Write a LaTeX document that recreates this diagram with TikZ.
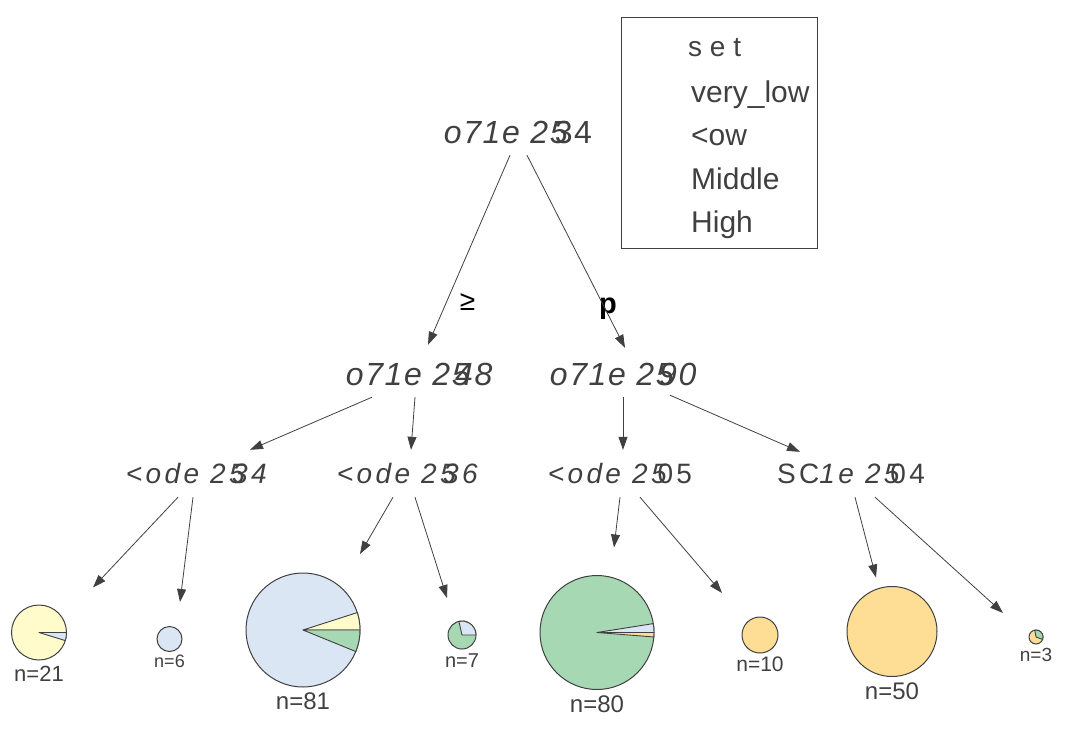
\documentclass[tikz,border=0pt]{standalone}
\usepackage{fontspec}
\setmainfont{Liberation Sans}
\usetikzlibrary{arrows.meta}
\definecolor{txt}{HTML}{404040}
\definecolor{cvl}{HTML}{FFFBCB}
\definecolor{clow}{HTML}{DAE6F3}
\definecolor{cmid}{HTML}{A6D8B4}
\definecolor{chigh}{HTML}{FEDE94}
\newcommand\myslice[4]{\filldraw[fill=#4, draw=txt, line width=0.9pt, line join=round] (0,0) -- (#1:#3) arc[start angle=#1, end angle=#2, radius=#3] -- cycle;}
\begin{document}
\begin{tikzpicture}[x=1pt,y=-1pt,
  every node/.style={text=txt},
  labA/.style={font=\fontsize{32}{32}\selectfont\addfontfeature{LetterSpace=5}, inner sep=2pt, text height=23pt, text depth=0pt},
  labB/.style={font=\fontsize{28}{28}\selectfont\addfontfeature{LetterSpace=12}, inner sep=2pt, text height=20pt, text depth=0pt},
  edge/.style={draw=txt, line width=0.8pt, -{Triangle[length=13pt,width=9pt]}},
  pie/.style={circle, draw=txt, line width=1pt, inner sep=0pt, minimum size=#1},
  nlab/.style={font=\fontsize{#1}{#1}\selectfont, inner sep=0pt, text height=0.72*#1 pt, text depth=0pt},
  legtxt/.style={font=\fontsize{30}{30}\selectfont, inner sep=0pt, anchor=base west}]
\useasboundingbox (0,0) rectangle (1084,744);

% legend
\node[draw=txt, line width=0.8pt, minimum width=196pt, minimum height=231pt, inner sep=0pt] (legend) at (719,132.5) {};
\node[legtxt, font=\fontsize{28}{28}\selectfont] (legtitle) at (688,56) {s e t};
\node[legtxt] (lg1) at (691,102) {very\_low};
\node[legtxt] (lg2) at (691,145) {<ow};
\node[legtxt] (lg3) at (691,189) {Middle};
\node[legtxt] (lg4) at (691,232) {High};

% inner nodes
\node[labA] (n1) at (518,132) {\textit{o71e 25}\kern-0.45em 34};
\node[labA] (n2) at (420,374) {\textit{o71e 25\kern-0.45em 48}};
\node[labA] (n3) at (624,374) {\textit{o71e 25\kern-0.45em 90}};
\node[labB] (n4) at (198,473) {\textit{<ode 25\kern-0.45em 34}};
\node[labB] (n5) at (409,473) {\textit{<ode 25\kern-0.45em 36}};
\node[labB] (n6) at (620,473) {\textit{<ode 25}\kern-0.45em 05};
\node[labB] (n7) at (851,473) {SC\textit{1e 25}\kern-0.45em 04};

% edge labels
\node[font=\fontsize{28}{28}\selectfont, inner sep=0pt, text=black] (e1) at (467.5,302.5) {≥};
\node[font=\bfseries\fontsize{29}{29}\selectfont, inner sep=0pt, text=black] (e2) at (608,309) {p};

% leaves
\node[pie=55pt, fill=cvl] (l1) at (39,632.5) {};
\node[pie=25pt, fill=clow] (l2) at (169.5,639) {};
\node[pie=114pt, fill=clow] (l3) at (303,630) {};
\node[pie=28pt, fill=cmid] (l4) at (462,635) {};
\node[pie=114pt, fill=cmid] (l5) at (597,632.5) {};
\node[pie=36pt, fill=chigh] (l6) at (760,635) {};
\node[pie=90pt, fill=chigh] (l7) at (892,631.5) {};
\node[pie=14pt, fill=chigh] (l8) at (1036,637) {};

\begin{scope}[shift={(l1.center)}, yscale=-1]\myslice{-17.1}{0}{27.5}{clow}\end{scope}
\begin{scope}[shift={(l3.center)}, yscale=-1]\myslice{0}{17.8}{57}{cvl}\myslice{-22.2}{0}{57}{cmid}\end{scope}
\begin{scope}[shift={(l4.center)}, yscale=-1]\myslice{0}{102.9}{14}{clow}\end{scope}
\begin{scope}[shift={(l5.center)}, yscale=-1]\myslice{0}{9}{57}{clow}\myslice{-4.5}{0}{57}{chigh}\end{scope}
\begin{scope}[shift={(l8.center)}, yscale=-1]\myslice{-20}{100}{7}{cmid}\end{scope}

\node[nlab=22] (t1) at (39,674) {n=21};
\node[nlab=18] (t2) at (169.5,661) {n=6};
\node[nlab=24] (t3) at (303,701) {n=81};
\node[nlab=20] (t4) at (462,660) {n=7};
\node[nlab=24] (t5) at (597,703.5) {n=80};
\node[nlab=21] (t6) at (760,664) {n=10};
\node[nlab=24] (t7) at (892,691) {n=50};
\node[nlab=19] (t8) at (1036,655) {n=3};

% edges
\draw[edge] ([shift={(-8,9.5)}]n1.south) -- ([shift={(8,-15.5)}]n2.north);
\draw[edge] ([shift={(9,9.5)}]n1.south) -- ([shift={(1,-12.5)}]n3.north);
\draw[edge] ([shift={(-48,9.5)}]n2.south) -- ([shift={(52,-11)}]n4.north);
\draw[edge] ([shift={(-5,9.5)}]n2.south) -- ([shift={(2,-11)}]n5.north);
\draw[edge] ([shift={(-1,9.5)}]n3.south) -- ([shift={(3,-11)}]n6.north);
\draw[edge] ([shift={(46,7.5)}]n3.south) -- ([shift={(-51,-9)}]n7.north);
\draw[edge] ([shift={(-20,12)}]n4.south) -- ([shift={(54,-45)}]l1.center);
\draw[edge] ([shift={(-5,12)}]n4.south) -- ([shift={(10.5,-37)}]l2.center);
\draw[edge] ([shift={(-16,12)}]n5.south) -- ([shift={(57,-76)}]l3.center);
\draw[edge] ([shift={(6,12)}]n5.south) -- ([shift={(-15,-37)}]l4.center);
\draw[edge] ([shift={(0,12)}]n6.south) -- ([shift={(17,-85)}]l5.center);
\draw[edge] ([shift={(20,12)}]n6.south) -- ([shift={(-38,-42)}]l6.center);
\draw[edge] ([shift={(4,12)}]n7.south) -- ([shift={(-16,-54)}]l7.center);
\draw[edge] ([shift={(24,12)}]n7.south) -- ([shift={(-33,-24)}]l8.center);
\end{tikzpicture}
\end{document}
